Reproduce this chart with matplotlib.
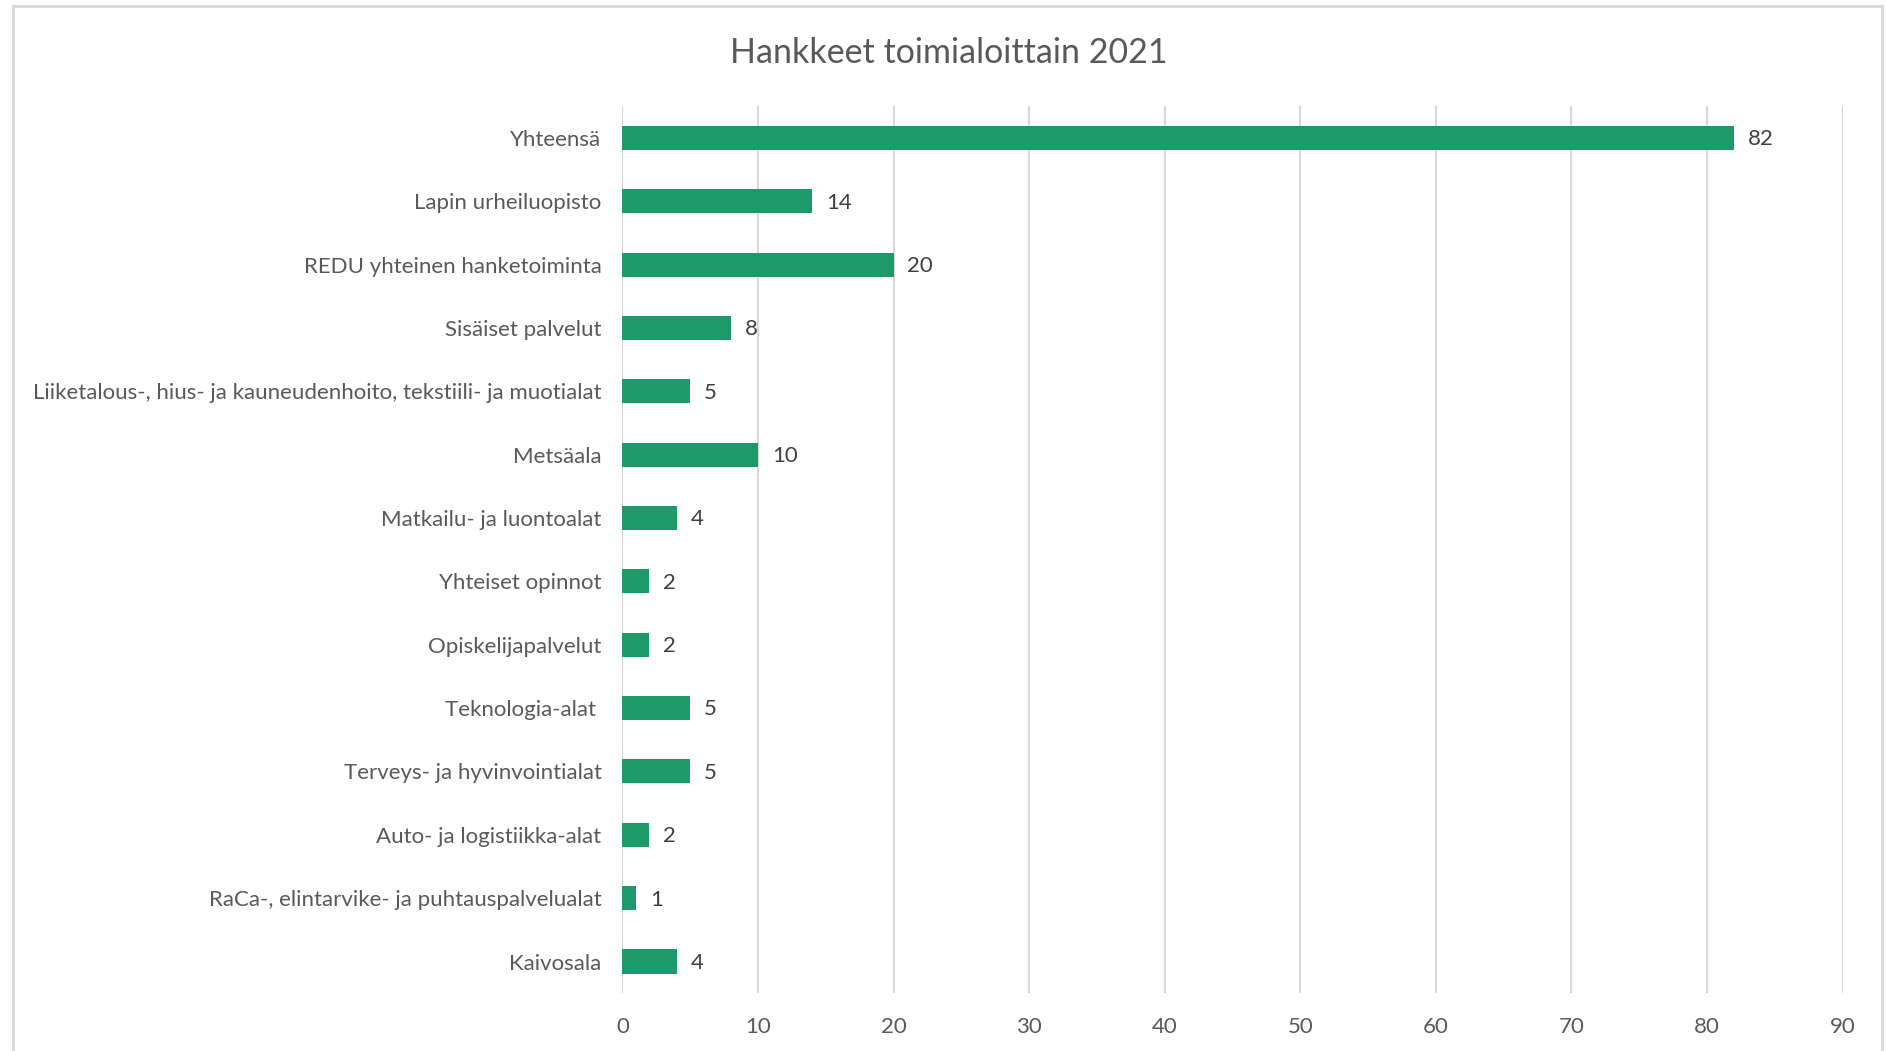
"""Hankkeet toimialoittain 2021 - vaakapylväskaavio."""

import matplotlib
import matplotlib.pyplot as plt
from matplotlib.lines import Line2D

matplotlib.use("Agg")

toimialat = [
    "Yhteensä",
    "Lapin urheiluopisto",
    "REDU yhteinen hanketoiminta",
    "Sisäiset palvelut",
    "Liiketalous-, hius- ja kauneudenhoito, tekstiili- ja muotialat",
    "Metsäala",
    "Matkailu- ja luontoalat",
    "Yhteiset opinnot",
    "Opiskelijapalvelut",
    "Teknologia-alat ",
    "Terveys- ja hyvinvointialat",
    "Auto- ja logistiikka-alat",
    "RaCa-, elintarvike- ja puhtauspalvelualat",
    "Kaivosala",
]
hankkeet = [82, 14, 20, 8, 5, 10, 4, 2, 2, 5, 5, 2, 1, 4]
x_tikit = [0, 10, 20, 30, 40, 50, 60, 70, 80, 90]

VIHREA = "#1e9a6a"
HARMAA_TEKSTI = "#595959"
RUUDUKKO = "#d9d9d9"

plt.rcParams["font.family"] = ["Lato", "DejaVu Sans"]

fig = plt.figure(figsize=(18.86, 10.51), dpi=100)
ax = fig.add_axes([0.330, 0.055, 0.647, 0.844])

y = list(range(len(toimialat)))
ax.barh(y, hankkeet, height=0.38, color=VIHREA, zorder=3)

for yi, arvo in zip(y, hankkeet):
    ax.annotate(str(arvo), (arvo, yi), xytext=(10, -1), textcoords="offset points",
                ha="left", va="center", fontsize=16, color="#404040")

ax.set_ylim(len(toimialat) - 0.5, -0.5)
ax.set_xlim(0, 90)
ax.set_xticks(x_tikit)
ax.set_yticks(y)
ax.set_yticklabels(toimialat, fontsize=16, color=HARMAA_TEKSTI)
ax.tick_params(axis="x", labelsize=16, labelcolor=HARMAA_TEKSTI, length=0, pad=17)
ax.tick_params(axis="y", length=0, pad=15)

ax.grid(axis="x", color=RUUDUKKO, linewidth=1.5, zorder=0)
for reuna in ax.spines.values():
    reuna.set_visible(False)

fig.text(0.503, 0.950, "Hankkeet toimialoittain 2021", ha="center", va="center",
         fontsize=24.5, color=HARMAA_TEKSTI)

# kaavion kehys (alareuna jää kuvan ulkopuolelle)
kehys = dict(color="#d9d9d9", linewidth=2, transform=fig.transFigure)
fig.add_artist(Line2D([0.0067, 0.0067], [0.0, 0.9940], **kehys))
fig.add_artist(Line2D([0.0067, 0.9979], [0.9940, 0.9940], **kehys))
fig.add_artist(Line2D([0.9979, 0.9979], [0.0, 0.9940], **kehys))

fig.savefig("out.png", dpi=100)
plt.close(fig)
